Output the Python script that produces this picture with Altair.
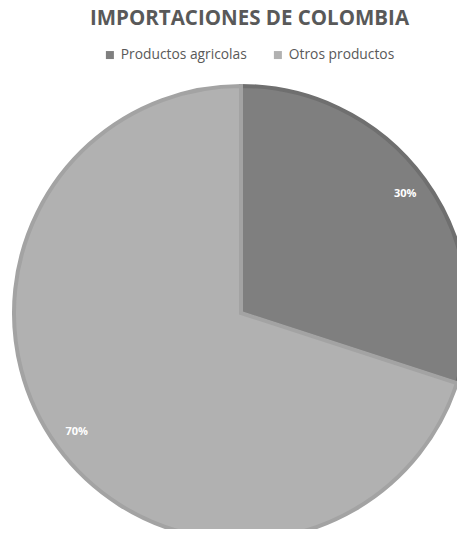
import altair as alt
import pandas as pd

title_text = "IMPORTACIONES DE COLOMBIA"
categories = ["Productos agricolas", "Otros productos"]
values = [30, 70]
labels = ["30%", "70%"]

df = pd.DataFrame({"cat": categories, "val": values, "lab": labels, "order": [0, 1]})

fill_colors = ["#7f7f7f", "#b1b1b1"]
stroke_colors = ["#6f6f6f", "#a3a3a3"]

CX, CY = 233, 305  # pie centre in view coordinates

base = alt.Chart(df).encode(
    theta=alt.Theta("val:Q", stack=True),
    order=alt.Order("order:Q"),
    x=alt.value(CX),
    y=alt.value(CY),
)

pie = base.mark_arc(outerRadius=227, strokeWidth=4).encode(
    color=alt.Color(
        "cat:N",
        scale=alt.Scale(domain=categories, range=fill_colors),
        legend=alt.Legend(
            title=None,
            orient="none",
            legendX=95,
            legendY=40,
            direction="horizontal",
            symbolType="square",
            symbolSize=64,
            symbolStrokeWidth=0,
            labelFont="Open Sans",
            labelFontSize=13.8,
            labelColor="#595959",
            columnPadding=24,
            symbolOffset=0,
            labelOffset=4,
        ),
    ),
    stroke=alt.Stroke(
        "cat:N",
        scale=alt.Scale(domain=categories, range=stroke_colors),
        legend=None,
    ),
)

text = base.mark_text(
    radius=203, font="Open Sans", fontSize=11, fontWeight="bold", color="white"
).encode(text="lab:N")

title = (
    alt.Chart(pd.DataFrame({"t": [title_text]}))
    .mark_text(
        font="Open Sans",
        fontSize=20.5,
        fontWeight="bold",
        color="#595959",
        baseline="alphabetic",
        align="center",
    )
    .encode(text="t:N", x=alt.value(241.5), y=alt.value(17))
)

chart = (
    alt.layer(pie, text, title)
    .properties(
        width=449,
        height=521,
        padding=0,
        autosize=alt.AutoSizeParams(type="none"),
    )
    .configure_view(stroke=None)
)

chart.save("out.html", embed_options={"renderer": "svg", "actions": False})
